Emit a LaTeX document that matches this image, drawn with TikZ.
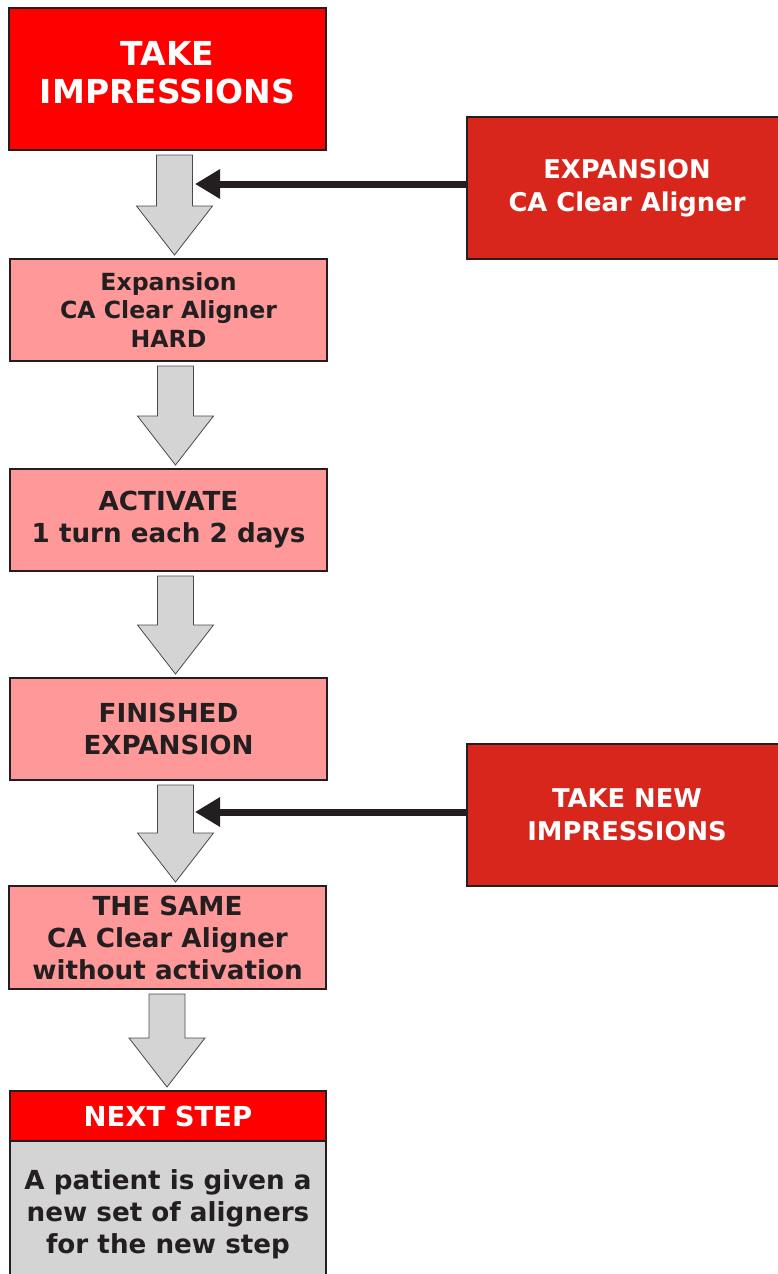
\documentclass[tikz,border=0pt]{standalone}
\usepackage{fontspec}
\setmainfont{DejaVu Sans}
\usetikzlibrary{arrows.meta,calc}
\definecolor{ink}{HTML}{231F20}
\definecolor{brightred}{HTML}{FF0000}
\definecolor{brickred}{HTML}{D9261C}
\definecolor{rosebox}{HTML}{FF9999}
\definecolor{greybox}{HTML}{D4D4D4}
\definecolor{arrowedge}{HTML}{4A4A4A}
% block arrow from one box down to the next one
\newcommand{\flowarrow}[3]{%
  \draw[bigarrow] let \p1=($(#1.south)+(#3,5)$), \p2=($(#2.north)+(0,-4)$) in
    (\x1-18pt,\y1) -- (\x1+18pt,\y1) -- (\x1+18pt,\y2+49pt) -- (\x1+38pt,\y2+49pt)
    -- (\x1,\y2) -- (\x1-38pt,\y2+49pt) -- (\x1-18pt,\y2+49pt) -- cycle;}
\begin{document}
\begin{tikzpicture}[x=1pt, y=-1pt,
    stage/.style={draw=ink, line width=2.5pt, rectangle, minimum width=317pt, minimum height=102pt, outer sep=0pt,
      fill=rosebox, text=ink, align=center, inner sep=0pt, font=\fontsize{26.2}{32}\selectfont\bfseries},
    headbox/.style={stage, fill=brightred, text=white},
    sidebox/.style={stage, fill=brickred, text=white, minimum width=320pt, minimum height=142pt,
      font=\fontsize{25.8}{32.5}\selectfont\bfseries},
    bigarrow/.style={draw=arrowedge, line width=0.8pt, fill=greybox},
    pointer/.style={draw=ink, line width=7pt, -{Triangle[length=25pt, width=28pt]}}]
  \useasboundingbox (0,0) rectangle (777,1274);

  \node[headbox, minimum height=142pt, text depth=14pt, font=\fontsize{33}{38}\selectfont\bfseries] (take) at (167.5,79) {TAKE\\IMPRESSIONS};
  \node[stage, font=\fontsize{23.6}{28.5}\selectfont\bfseries] (hard) at (168.5,310) {Expansion\\CA Clear Aligner\\HARD};
  \node[stage] (activate) at (168.5,520) {ACTIVATE\\1 turn each 2 days};
  \node[stage] (finished) at (168.5,729) {FINISHED\\EXPANSION};
  \node[stage, minimum height=103pt] (same) at (167.5,937.5) {THE SAME\\CA Clear Aligner\\without activation};
  \node[headbox, minimum width=316pt, minimum height=50pt, font=\fontsize{27.5}{32}\selectfont\bfseries] (next) at (168,1116) {NEXT STEP};
  \node[stage, fill=greybox, minimum width=316pt, minimum height=146pt, anchor=north] (patient) at (next.south)
    {A patient is given a\\new set of aligners\\for the new step};

  \node[sidebox] (expansion) at (627,188) {EXPANSION\\CA Clear Aligner};
  \node[sidebox] (newimp) at (627,815) {TAKE NEW\\IMPRESSIONS};

  \flowarrow{take}{hard}{7}
  \flowarrow{hard}{activate}{7}
  \flowarrow{activate}{finished}{7}
  \flowarrow{finished}{same}{7}
  \flowarrow{same}{next}{-0.5}

  \coordinate (in1) at (195,184);
  \coordinate (in2) at (195,812);
  \draw[pointer] (expansion.west |- in1) -- (in1);
  \draw[pointer] (newimp.west |- in2) -- (in2);
\end{tikzpicture}
\end{document}
